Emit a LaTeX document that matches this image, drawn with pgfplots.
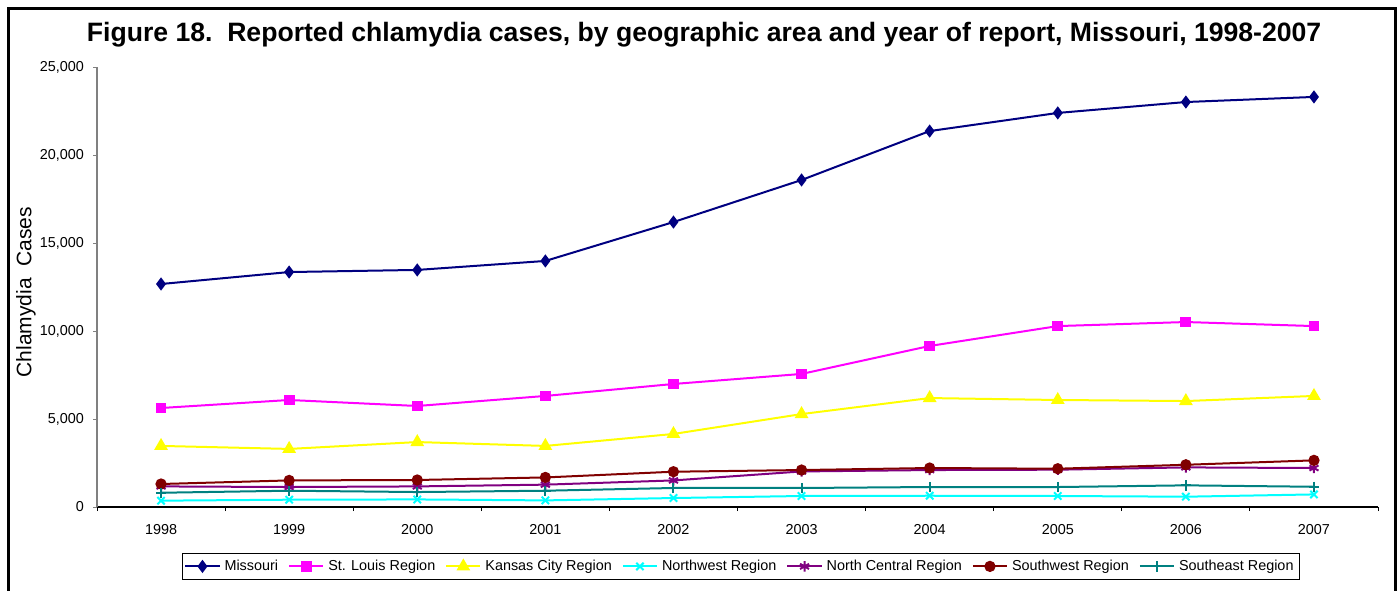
\documentclass[border=0pt]{standalone}
\usepackage{pgfplots}
\pgfplotsset{compat=1.18}
\usepackage{fontspec}
\setmainfont{Liberation Sans}
\definecolor{cMO}{RGB}{0,0,128}
\definecolor{cSTL}{RGB}{255,0,255}
\definecolor{cKC}{RGB}{255,255,0}
\definecolor{cNW}{RGB}{0,255,255}
\definecolor{cNC}{RGB}{128,0,128}
\definecolor{cSW}{RGB}{128,0,0}
\definecolor{cSE}{RGB}{0,128,128}
\begin{document}
\begin{tikzpicture}
\path[use as bounding box] (0pt,0pt) rectangle (698.5pt,295pt);
\draw[line width=1.5pt] (4.25pt,-1pt) -- (4.25pt,290.75pt) -- (697.5pt,290.75pt) -- (697.5pt,-1pt);
\begin{axis}[
  at={(48.5pt,41.5pt)}, anchor=south west,
  scale only axis, width=640.5pt, height=220pt,
  xmin=-0.5, xmax=9.5, ymin=0, ymax=25000,
  axis x line=bottom, axis y line=left,
  x axis line style={-,black,line width=0.6pt},
  y axis line style={-,gray,line width=0.6pt},
  xtick={0,...,9},
  xticklabels={1998,1999,2000,2001,2002,2003,2004,2005,2006,2007},
  major x tick style={draw=none},
  minor xtick={-0.5,0.5,...,9.5},
  minor x tick style={black,line width=0.5pt},
  minor tick length=2pt,
  ytick={0,5000,...,25000},
  major y tick style={gray,line width=0.5pt},
  major tick length=2pt,
  tick align=outside,
  scaled y ticks=false,
  /pgf/number format/.cd, 1000 sep={,}, assume math mode=true, /pgfplots/.cd,
  tick label style={font=\fontsize{7.2}{8}\selectfont},
  xticklabel style={yshift=-3pt},
  yticklabel style={xshift=-1pt},
  ylabel={Chlamydia\ \ Cases},
  ylabel style={font=\fontsize{10.5}{12}\selectfont, at={(rel axis cs:0,0.4886)}, anchor=center, yshift=35.5pt},
  title={Figure 18.\ \ Reported chlamydia cases, by geographic area and year of report, Missouri, 1998-2007},
  title style={font=\bfseries\fontsize{13.3}{15}\selectfont, at={(rel axis cs:0.4739,1.0454)}, anchor=center, yshift=0pt},
  legend columns=7,
  legend style={at={(0.5027,-0.135)}, anchor=center, draw=black, line width=0.5pt,
    font=\fontsize{7.2}{8}\selectfont, inner sep=1pt, row sep=0pt,
    /tikz/every even column/.append style={column sep=3pt}},
  every axis plot/.append style={line width=1pt},
]
\addplot[cMO, mark=diamond*, mark size=2.5pt, mark options={solid}] coordinates {
(0,12670)(1,13350)(2,13470)(3,13980)(4,16190)(5,18580)(6,21360)(7,22390)(8,23010)(9,23300)};
\addlegendentry{Missouri}
\addplot[cSTL, mark=square*, mark size=2.2pt, mark options={solid}] coordinates {
(0,5625)(1,6080)(2,5740)(3,6310)(4,6990)(5,7560)(6,9150)(7,10280)(8,10510)(9,10280)};
\addlegendentry{St. Louis Region}
\addplot[cKC, mark=triangle*, mark size=3pt, mark options={solid}] coordinates {
(0,3470)(1,3300)(2,3690)(3,3470)(4,4150)(5,5280)(6,6190)(7,6080)(8,6020)(9,6310)};
\addlegendentry{Kansas City Region}
\addplot[cNW, mark=x, mark size=2.6pt, mark options={solid}] coordinates {
(0,360)(1,415)(2,430)(3,375)(4,510)(5,625)(6,640)(7,625)(8,585)(9,715)};
\addlegendentry{Northwest Region}
\addplot[cNC, mark=asterisk, mark size=2.6pt, mark options={solid}] coordinates {
(0,1170)(1,1135)(2,1170)(3,1270)(4,1510)(5,2020)(6,2100)(7,2120)(8,2250)(9,2215)};
\addlegendentry{North Central Region}
\addplot[cSW, mark=*, mark size=2.3pt, mark options={solid}] coordinates {
(0,1307)(1,1510)(2,1535)(3,1680)(4,2005)(5,2100)(6,2215)(7,2175)(8,2400)(9,2650)};
\addlegendentry{Southwest Region}
\addplot[cSE, mark=+, mark size=2.6pt, mark options={solid}] coordinates {
(0,810)(1,925)(2,850)(3,925)(4,1080)(5,1080)(6,1135)(7,1135)(8,1230)(9,1150)};
\addlegendentry{Southeast Region}
\end{axis}
\end{tikzpicture}
\end{document}
